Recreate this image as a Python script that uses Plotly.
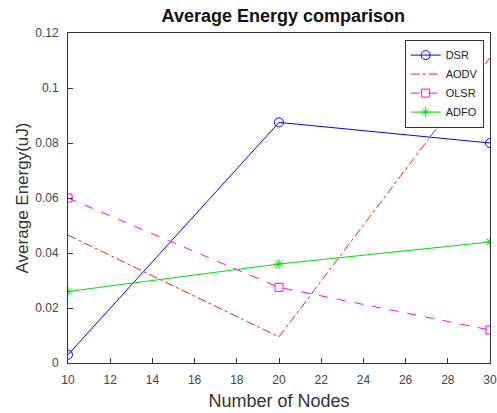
import plotly.graph_objects as go

nodes = [10, 20, 30]
dsr = [0.003, 0.0875, 0.080]
aodv = [0.0465, 0.0095, 0.111]
olsr = [0.060, 0.0275, 0.012]
adfo = [0.026, 0.036, 0.044]
x_ticks = [10, 12, 14, 16, 18, 20, 22, 24, 26, 28, 30]
y_ticks = [0, 0.02, 0.04, 0.06, 0.08, 0.1, 0.12]
y_labels = ["0", "0.02", "0.04", "0.06", "0.08", "0.1", "0.12"]

fig = go.Figure()
fig.add_trace(go.Scatter(x=nodes, y=dsr, name="DSR", mode="lines+markers",
                         line=dict(color="#0000ff", width=1),
                         marker=dict(symbol="circle-open", size=9, color="#0000ff", line=dict(width=1))))
fig.add_trace(go.Scatter(x=nodes, y=aodv, name="AODV", mode="lines",
                         line=dict(color="#d62728", width=1, dash="dashdot")))
fig.add_trace(go.Scatter(x=nodes, y=olsr, name="OLSR", mode="lines+markers",
                         line=dict(color="#ff00ff", width=1, dash="dash"),
                         marker=dict(symbol="square-open", size=8, color="#ff00ff", line=dict(width=1))))
fig.add_trace(go.Scatter(x=nodes, y=adfo, name="ADFO", mode="lines+markers",
                         line=dict(color="#00dd00", width=1),
                         marker=dict(symbol="asterisk-open", size=8, color="#00dd00", line=dict(width=1))))

axis_common = dict(showgrid=False, zeroline=False, showline=True, linecolor="#333333",
                   linewidth=1, mirror=True, ticks="inside", ticklen=5, tickcolor="#333333",
                   automargin=False,
                   tickfont=dict(family="Liberation Sans, Arial", size=12, color="#444444"))
fig.update_xaxes(range=[10, 30], tickvals=x_ticks, ticklabelstandoff=6,
                 title=dict(text="Number of Nodes", font=dict(size=18, color="#333333", family="Liberation Sans, Arial"), standoff=7), **axis_common)
fig.update_yaxes(range=[0, 0.12], tickvals=y_ticks, ticktext=y_labels, ticklabelstandoff=6,
                 title=dict(text="Average Energy(uJ)", font=dict(size=17, color="#333333", family="Liberation Sans, Arial"), standoff=2), **axis_common)

fig.update_layout(
    width=497, height=413,
    margin=dict(l=68, r=7, t=33, b=50),
    paper_bgcolor="white", plot_bgcolor="white",
    title=dict(text="<b>Average Energy comparison</b>", x=0.57, xanchor="center", y=0.978, yanchor="top",
               font=dict(family="Liberation Sans, Arial", size=18, color="#111111")),
    font=dict(family="Liberation Sans, Arial"),
    legend=dict(x=0.985, y=0.98, xanchor="right", yanchor="top", bgcolor="white",
                bordercolor="#333333", borderwidth=1, font=dict(size=11, color="#222222"),
                tracegroupgap=0, itemwidth=30),
    showlegend=True,
)

fig.write_html("out.html")
